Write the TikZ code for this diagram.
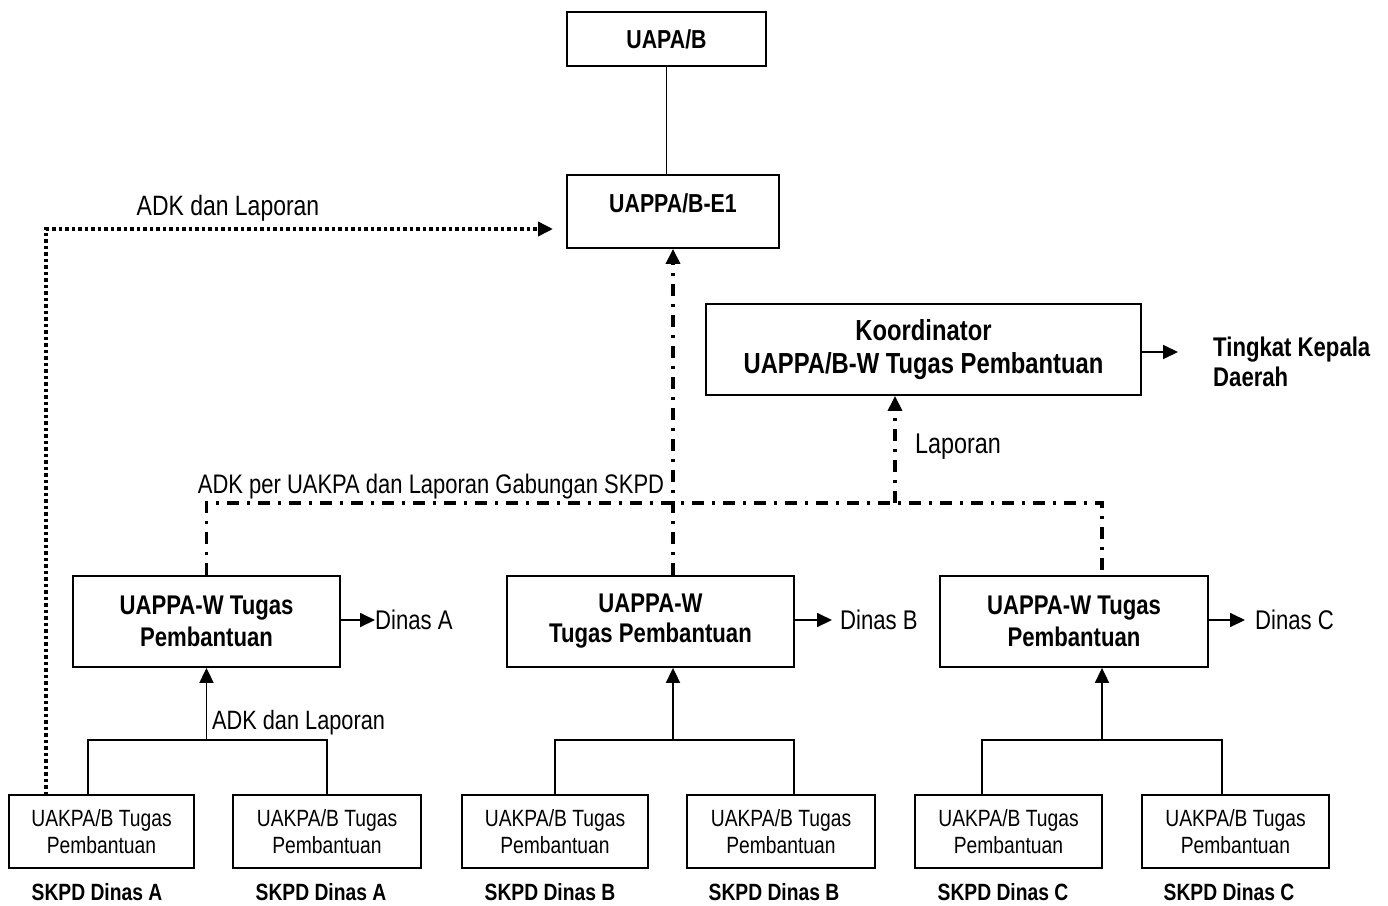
\documentclass[tikz,border=0pt]{standalone}
\usepackage{fontspec}
\setmainfont{Liberation Sans}[FakeStretch=0.82]
\usetikzlibrary{arrows.meta}
\begin{document}
\begin{tikzpicture}[x=1pt,y=-1pt,
  box/.style={draw,line width=1.8pt,rectangle,inner sep=0pt,align=center},
  bigbold/.style={font=\fontsize{26}{32}\selectfont\bfseries},
  smalltxt/.style={font=\fontsize{23.5}{27}\selectfont},
  lbl/.style={inner sep=0pt,font=\fontsize{26}{30}\selectfont},
  skpd/.style={inner sep=0pt,font=\fontsize{23.5}{28}\selectfont\bfseries},
  conn/.style={line width=1.8pt},
  tip/.style={-{Triangle[length=15pt,width=14pt]}},
  dotline/.style={line width=3.5pt,dash pattern=on 3.5pt off 3pt},
  dashdot/.style={line width=3.4pt,dash pattern=on 12pt off 8pt on 3pt off 8pt}
]
\useasboundingbox (0,0) rectangle (1388,905);
% main boxes
\node[box,minimum width=199pt,minimum height=54pt,bigbold] (uapa) at (666.5,39) {UAPA/B};
\node[box,minimum width=212pt,minimum height=73pt] (e1) at (673,211.5) {};
\node[bigbold,inner sep=0pt] (e1t) at (673,203) {UAPPA/B-E1};
\node[box,minimum width=435pt,minimum height=91pt,font=\fontsize{29}{33}\selectfont\bfseries] (koord) at (923.5,349.5) {Koordinator\\UAPPA/B-W Tugas Pembantuan};
\node[box,minimum width=267pt,minimum height=91pt,font=\fontsize{27}{32}\selectfont\bfseries] (boxA) at (206.5,621.5) {UAPPA-W Tugas\\Pembantuan};
\node[box,minimum width=287pt,minimum height=91pt,font=\fontsize{27}{33}\selectfont\bfseries] (boxB) at (650.5,621.5) {UAPPA-W\\[-3pt]Tugas Pembantuan};
\node[box,minimum width=268pt,minimum height=91pt,font=\fontsize{27}{32}\selectfont\bfseries] (boxC) at (1074,621.5) {UAPPA-W Tugas\\Pembantuan};
% small boxes
\node[box,minimum width=185pt,minimum height=73pt,smalltxt] (A1) at (101.5,831.5) {UAKPA/B Tugas\\Pembantuan};
\node[box,minimum width=188pt,minimum height=73pt,smalltxt] (A2) at (327,831.5) {UAKPA/B Tugas\\Pembantuan};
\node[box,minimum width=186pt,minimum height=73pt,smalltxt] (B1) at (555,831.5) {UAKPA/B Tugas\\Pembantuan};
\node[box,minimum width=188pt,minimum height=73pt,smalltxt] (B2) at (781,831.5) {UAKPA/B Tugas\\Pembantuan};
\node[box,minimum width=187pt,minimum height=73pt,smalltxt] (C1) at (1008.5,831.5) {UAKPA/B Tugas\\Pembantuan};
\node[box,minimum width=187pt,minimum height=73pt,smalltxt] (C2) at (1235.5,831.5) {UAKPA/B Tugas\\Pembantuan};
% SKPD labels
\node[skpd] (sA1) at (97,892) {SKPD Dinas A};
\node[skpd] (sA2) at (321,892) {SKPD Dinas A};
\node[skpd] (sB1) at (550,892) {SKPD Dinas B};
\node[skpd] (sB2) at (774,892) {SKPD Dinas B};
\node[skpd] (sC1) at (1003,892) {SKPD Dinas C};
\node[skpd] (sC2) at (1229,892) {SKPD Dinas C};
% Dinas labels
\node[lbl,anchor=west,font=\fontsize{27}{30}\selectfont] (dA) at (375,620) {Dinas A};
\node[lbl,anchor=west,font=\fontsize{27}{30}\selectfont] (dB) at (840,620) {Dinas B};
\node[lbl,anchor=west,font=\fontsize{27}{30}\selectfont] (dC) at (1255,620) {Dinas C};
\node[lbl,anchor=west,align=left,font=\fontsize{27}{30}\selectfont\bfseries] (tkd) at (1213,362) {Tingkat Kepala\\Daerah};
% other labels
\node[lbl,font=\fontsize{28}{30}\selectfont] (adk1) at (228,208) {ADK dan Laporan};
\node[lbl,anchor=west,font=\fontsize{26.5}{30}\selectfont] (adk2) at (212,723) {ADK dan Laporan};
\node[lbl,font=\fontsize{26.8}{30}\selectfont] (adkper) at (431,487) {ADK per UAKPA dan Laporan Gabungan SKPD};
\node[lbl,anchor=west,font=\fontsize{28.5}{30}\selectfont] (lap) at (915,447) {Laporan};
% coordinates
\coordinate (dotStart) at (46,795);
\coordinate (dotEnd) at (553,229);
\coordinate (busY) at (0,503);
\coordinate (cDrop) at (1102,576);
\coordinate (lapBot) at (895,503);
\coordinate (tkEnd) at (1178,352);
\coordinate (jA) at (206.5,740);
\coordinate (jB) at (673,740);
\coordinate (jC) at (1102,740);
% connectors
\draw[conn] (uapa.south) -- (uapa.south |- e1.north);
\draw[dotline,tip] (dotStart) |- (dotEnd);
\draw[dashdot,tip] (e1.south |- boxB.north) -- (e1.south);
\draw[dashdot] (boxA.north) -- (boxA.north |- busY) -- (cDrop |- busY) -- (cDrop);
\draw[dashdot,tip] (lapBot) -- (lapBot |- koord.south);
\draw[conn,tip] (koord.east |- tkEnd) -- (tkEnd);
\draw[conn,tip] (boxA.east |- dA.west) -- (dA.west);
\draw[conn,tip] (boxB.east |- dB.west) -- ([xshift=-8pt]dB.west);
\draw[conn,tip] (boxC.east |- dC.west) -- ([xshift=-10pt]dC.west);
% trees
\draw[conn] ([xshift=-13.5pt]A1.north) |- (jA) -| (A2.north);
\draw[conn,tip] (jA) -- (jA |- boxA.south);
\draw[conn] (B1.north) |- (jB) -| ([xshift=13pt]B2.north);
\draw[conn,tip] (jB) -- (jB |- boxB.south);
\draw[conn] ([xshift=-26.5pt]C1.north) |- (jC) -| ([xshift=-13.5pt]C2.north);
\draw[conn,tip] (jC) -- (jC |- boxC.south);
\end{tikzpicture}
\end{document}
